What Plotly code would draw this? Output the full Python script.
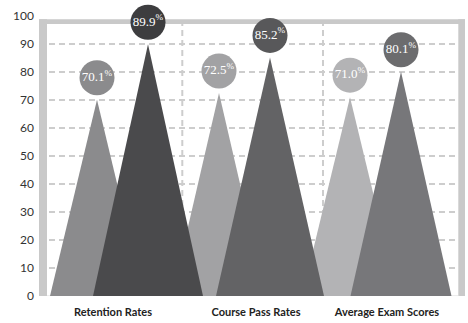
import plotly.graph_objects as go

# ---- data -------------------------------------------------------------
categories = ["Retention Rates", "Course Pass Rates", "Average Exam Scores"]
left_values = [70.1, 72.5, 71.0]    # lighter triangle in each group
right_values = [89.9, 85.2, 80.1]   # darker triangle in each group
y_tick_values = [0, 10, 20, 30, 40, 50, 60, 70, 80, 90, 100]
grid_values = [10, 20, 30, 40, 50, 60, 70, 80, 90]

# ---- layout / style ---------------------------------------------------
W, H = 468, 323
M_L, M_R, M_T, M_B = 39, 3, 16, 27
X0, X1 = M_L, W - M_R                 # x axis uses pixel-like units
PX_PER_UNIT = (H - M_T - M_B) / 100.0

group_x = [122.5, 244.5, 375.5]       # centre of each category group
apex_offset = 25.5                    # apex distance from group centre
left_half = [47, 47, 48]              # half base widths
right_half = [55, 54, 50.5]
label_x = [113, 256, 387]
divider_x = [182.3, 323]

left_colors = ["#8b8b8d", "#a2a2a4", "#b3b3b5"]
right_colors = ["#4a4a4c", "#636365", "#77777a"]
left_circle = ["#8b8b8d", "#a2a2a4", "#b3b3b5"]
right_circle = ["#3d3d3f", "#58585a", "#6c6c6e"]
frame_color = "#c9c9c9"
grid_color = "#cdcdcd"

circle_lift = 22 / PX_PER_UNIT        # circle centre above apex
frame_top = 98.8
frame_top_inner = 97.1

fig = go.Figure()


def triangle(cx, hw, value, color):
    fig.add_trace(go.Scatter(
        x=[cx - hw, cx, cx + hw, cx - hw],
        y=[0, value, 0, 0],
        mode="lines", fill="toself", fillcolor=color,
        line=dict(width=0, color=color), hoverinfo="skip",
        showlegend=False,
    ))


# lighter triangles first, darker ones overlap them
for i, v in enumerate(left_values):
    triangle(group_x[i] - apex_offset, left_half[i], v, left_colors[i])
for i, v in enumerate(right_values):
    triangle(group_x[i] + apex_offset, right_half[i], v, right_colors[i])

# value bubbles
for vals, sign, cols in ((left_values, -1, left_circle),
                         (right_values, 1, right_circle)):
    fig.add_trace(go.Scatter(
        x=[g + sign * apex_offset for g in group_x],
        y=[v + circle_lift for v in vals],
        mode="markers+text",
        marker=dict(size=35, color=cols, line=dict(width=0)),
        text=[f"{v:.1f}<sup>%</sup>" for v in vals],
        textposition="middle center",
        textfont=dict(family="Liberation Serif", size=13, color="white"),
        hoverinfo="skip", showlegend=False, cliponaxis=False,
    ))

shapes = []
# dashed horizontal grid
for g in grid_values:
    shapes.append(dict(type="line", xref="x", yref="y", layer="below",
                       x0=X0, x1=X1, y0=g, y1=g,
                       line=dict(color=grid_color, width=2, dash="6px,4px")))
# dashed group dividers
for d in divider_x:
    shapes.append(dict(type="line", xref="x", yref="y", layer="below",
                       x0=d, x1=d, y0=0, y1=frame_top_inner,
                       line=dict(color=grid_color, width=2, dash="6px,4px")))
# baseline
shapes.append(dict(type="line", xref="x", yref="y", layer="below",
                   x0=47, x1=458, y0=0, y1=0,
                   line=dict(color="#dadada", width=1)))
# frame: left, top, right bars (kept under the bubbles)
shapes += [
    dict(type="rect", xref="x", yref="y", layer="below", x0=39, x1=47,
         y0=0, y1=frame_top, fillcolor=frame_color, line=dict(width=0)),
    dict(type="rect", xref="x", yref="y", layer="below", x0=39, x1=465,
         y0=frame_top_inner, y1=frame_top, fillcolor=frame_color,
         line=dict(width=0)),
    dict(type="rect", xref="x", yref="y", layer="below", x0=458.3, x1=465,
         y0=0, y1=frame_top, fillcolor=frame_color, line=dict(width=0)),
]

fig.update_layout(
    width=W, height=H,
    margin=dict(l=M_L, r=M_R, t=M_T, b=M_B),
    paper_bgcolor="white", plot_bgcolor="white",
    shapes=shapes,
    xaxis=dict(range=[X0, X1], showgrid=False, zeroline=False,
               tickvals=label_x, ticktext=categories, ticks="",
               tickfont=dict(family="Lato", size=11, color="#222222",
                             weight="bold"),
               ticklabelstandoff=8, fixedrange=True),
    yaxis=dict(range=[0, 100], showgrid=False, zeroline=False,
               tickvals=y_tick_values, ticks="",
               tickfont=dict(family="Lato", size=12, color="#333333"),
               ticklabelstandoff=4, fixedrange=True),
)

fig.write_html("out.html")
